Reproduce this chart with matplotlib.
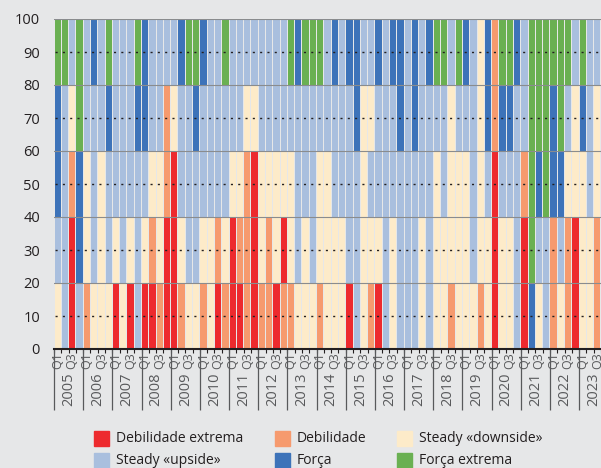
import matplotlib.pyplot as plt
from matplotlib.patches import Rectangle

plt.rcParams['font.family'] = ['Open Sans', 'DejaVu Sans']

# one letter per quarter, 2005 Q1 .. 2023 Q3
# R = debilidade extrema, O = debilidade, Y = steady downside,
# L = steady upside, B = forca, G = forca extrema
band_0_20 = "YLRLOYYYRY" "RLRRORROYY" "OYRORROROO" "ROOYYYOYYY" "RLYORLYLLL" "YLYYOYYYOY" "RYYLRBYLOY" "ORYYO"
band_20_40 = "LLRBYLYLYL" "YLYOYRRYLL" "YYOYROORYO" "YRYLYLYYYY" "LLYYYLYLLL" "YLYYYYYLYY" "RYYLRGLLOL" "ORYYO"
band_40_60 = "BLOBYLYLLL" "LLLYYORLLL" "LLLLYYORYY" "YYYLLLYYLL" "LLYLLLLLLL" "LLYLYYYLYL" "RLLLOGBGBB" "YYYLY"
band_60_80 = "BLYGLLLBLL" "LBBLLOYLLB" "LLLLLLYYLL" "LLLLLLLLLL" "LBYYLLLBLB" "LLLLYLLLYB" "OBBLLGGGBG" "LYBLY"
band_80_100 = "GGLGLBLGLL" "LGBLLLLBGG" "BLLGLLLLLL" "LLGBGGGLBL" "BBLLBLBBLB" "LBGGLGBLYB" "OGGBLGGGGG" "GLGLL"
bands = [band_0_20, band_20_40, band_40_60, band_60_80, band_80_100]

years = list(range(2005, 2024))
codes = ["R", "O", "Y", "L", "B", "G"]
labels = ["Debilidade extrema", "Debilidade", "Steady «downside»",
          "Steady «upside»", "Força", "Força extrema"]
colors = {"R": "#ED2A2E", "O": "#F69A6E", "Y": "#FDEBC9",
          "L": "#A9BFDE", "B": "#3D73B9", "G": "#6AB052"}

bg = "#E6E7E8"
txt = "#58595B"
dark = "#231F20"
W, H = 601, 468

n = len(band_0_20)
fig = plt.figure(figsize=(W / 100, H / 100), dpi=100, facecolor=bg)
ax = fig.add_axes([54 / W, 119 / H, 547 / W, 330 / H])
ax.set_facecolor(bg)

for level, band in enumerate(bands):
    ax.bar(range(n), 20, bottom=20 * level, width=0.86,
           color=[colors[c] for c in band], edgecolor="none", zorder=2)

for y in range(20, 101, 20):
    ax.axhline(y, color="#8A8C8E", lw=0.8, zorder=3)
for y in range(10, 100, 20):
    ax.axhline(y, color=dark, lw=1.0, ls=(4.5, (1.5, 3.76)), zorder=3)

ax.set_xlim(-0.5, -0.5 + 547 / 7.3)
ax.set_ylim(0, 100)
ax.set_yticks(range(0, 101, 10))
ax.tick_params(axis="y", length=0, pad=10, labelsize=10.5, labelcolor=dark)

for s in ["top", "right", "left"]:
    ax.spines[s].set_visible(False)
ax.spines["bottom"].set_color(dark)
ax.spines["bottom"].set_linewidth(1.5)
ax.spines["bottom"].set_zorder(4)

q_pos = [i for i in range(n) if i % 4 in (0, 2)]
ax.set_xticks(q_pos)
ax.set_xticklabels(["Q1" if i % 4 == 0 else "Q3" for i in q_pos], rotation=90)
ax.tick_params(axis="x", length=0, pad=2.5, labelsize=9, labelcolor=txt)
ax.set_xticks([i - 0.5 for i in range(n + 1)], minor=True)
ax.tick_params(axis="x", which="minor", length=3, width=0.8, color=dark)

xt = ax.get_xaxis_transform()
ax.vlines([4 * k - 0.5 for k in range(len(years) + 1)], -0.185, 0,
          transform=xt, color=txt, lw=0.9, clip_on=False)
for k, yr in enumerate(years):
    ax.text(4 * k + 1.5, -0.122, str(yr), transform=xt, rotation=90,
            ha="center", va="center", fontsize=10.5, color=txt, clip_on=False)

# legend, laid out as in the source: 3 columns, 2 rows
col_x = [94, 275, 397]
row_y = [431, 453]
for j, (code, lab) in enumerate(zip(codes, labels)):
    x0 = col_x[j % 3]
    y0 = row_y[j // 3]
    fig.add_artist(Rectangle((x0 / W, 1 - (y0 + 15) / H), 15 / W, 15 / H,
                             transform=fig.transFigure, color=colors[code]))
    fig.text((x0 + 22) / W, 1 - (y0 + 8) / H, lab, ha="left", va="center",
             fontsize=10, color=dark)

fig.savefig("out.png", dpi=100, facecolor=bg)
